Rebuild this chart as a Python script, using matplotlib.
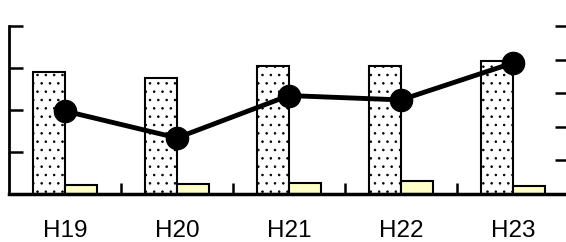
import matplotlib
matplotlib.use("Agg")
import matplotlib.pyplot as plt
import numpy as np

# values (no y labels in the original, arbitrary units)
years = ["H19", "H20", "H21", "H22", "H23"]
dotted_bars = [2.90, 2.76, 3.05, 3.05, 3.17]   # left axis, 0..4
yellow_bars = [0.21, 0.24, 0.26, 0.31, 0.19]   # left axis, 0..4
line_vals = [2.47, 1.67, 2.93, 2.80, 3.90]     # right axis, 0..5

plt.rcParams["font.family"] = ["Liberation Sans", "DejaVu Sans"]
plt.rcParams["hatch.linewidth"] = 0.6
plt.rcParams["hatch.color"] = "#333333"

fig = plt.figure(figsize=(5.66, 2.42), dpi=100)
ax = fig.add_axes([9 / 566, 48 / 242, 560 / 566, 168 / 242])
ax2 = ax.twinx()

x = np.arange(len(years))
w = 0.2857
ax.bar(x - w / 2, dotted_bars, width=w, color="white", edgecolor="black",
       linewidth=1.5, hatch="..", zorder=2)
ax.bar(x + w / 2, yellow_bars, width=w, color="#FFFFC8", edgecolor="black",
       linewidth=1.5, zorder=2)

ax2.plot(x, line_vals, color="black", linewidth=3.5, marker="o",
         markersize=16, zorder=3)

ax.set_xlim(-0.5, len(years) - 0.5)
ax.set_ylim(0, 4)
ax2.set_ylim(0, 5)
ax.set_yticks(np.arange(0, 5, 1))
ax2.set_yticks(np.arange(0, 6, 1))
ax.set_yticklabels([])
ax2.set_yticklabels([])

ax.set_xticks(x)
ax.set_xticklabels(years, fontsize=17.5)
ax.set_xticks(np.arange(0.5, len(years) - 0.5, 1), minor=True)
ax.tick_params(axis="x", which="major", length=0, pad=19)
ax.tick_params(axis="x", which="minor", direction="in", length=8, width=1.8)
ax.tick_params(axis="y", direction="in", length=10, width=1.8)
ax2.tick_params(axis="y", direction="in", length=10, width=1.8)

for a in (ax, ax2):
    for s in a.spines.values():
        s.set_visible(False)
ax.spines["left"].set_visible(True)
ax.spines["left"].set_linewidth(2)
ax.spines["bottom"].set_visible(True)
ax.spines["bottom"].set_linewidth(2.5)
ax.spines["bottom"].set_zorder(5)

ax.set_zorder(1)
ax2.set_zorder(2)
ax.patch.set_visible(False)

fig.savefig("out.png", dpi=100)
